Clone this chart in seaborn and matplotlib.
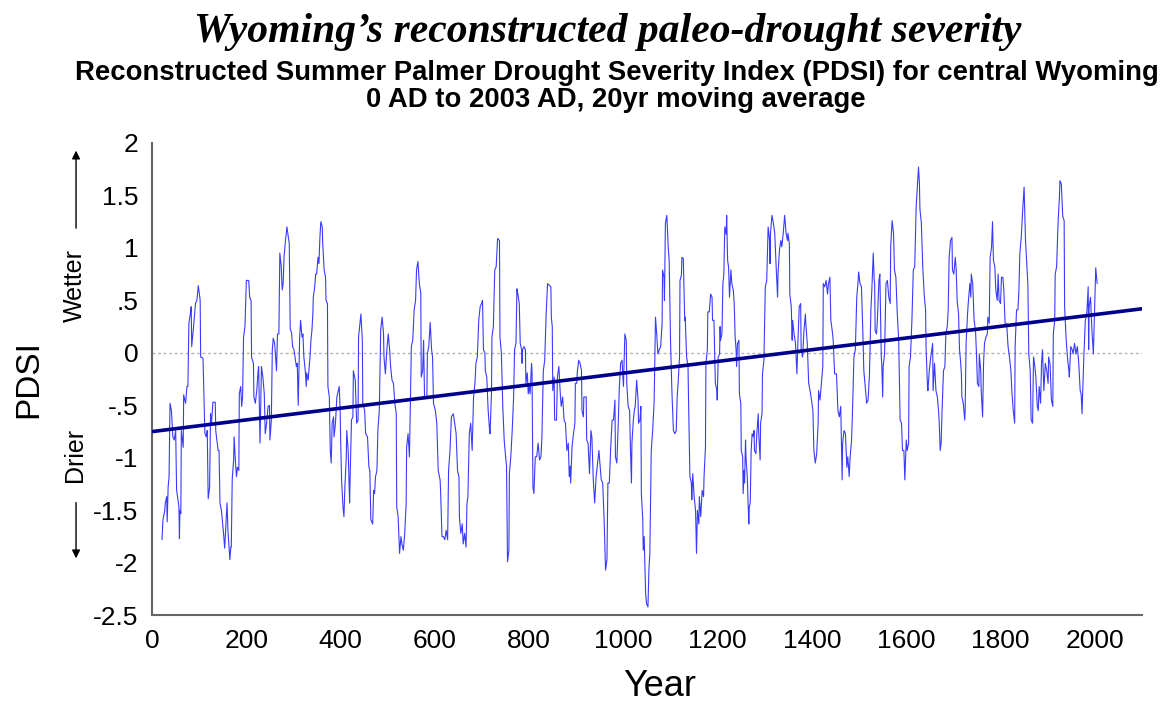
import matplotlib
matplotlib.use("Agg")
import matplotlib.pyplot as plt
import pandas as pd
import seaborn as sns

# 20yr moving average PDSI (turning points)
year = [
    21, 23, 27, 28, 31, 32, 34, 36, 38, 41, 44, 47, 50, 52, 57, 58, 59, 61, 62, 66,
    67, 71, 74, 76, 78, 81, 83, 84, 86, 88, 92, 95, 98, 102, 103, 108, 112, 115, 117, 119,
    122, 124, 126, 129, 134, 135, 140, 142, 144, 147, 151, 154, 156, 159,
    161, 165, 167, 168, 170, 173, 174, 177, 179, 181, 184, 185, 188, 190, 192, 194,
    197, 200, 205, 207, 210, 211, 215, 216, 219, 222, 225, 226, 229, 232, 235, 238,
    239, 240, 243, 246, 249, 250, 253, 255, 257, 260, 264, 266, 269, 271, 274, 276,
    278, 280, 283, 286, 289, 291, 293, 296, 298, 301, 306, 308, 310, 313, 315, 318,
    320, 322, 325, 327, 328,
    331, 335, 337, 339, 341, 342, 345, 347, 349, 352, 354, 356, 358, 361, 362, 365,
    368, 369, 372, 373, 376, 378, 380, 382, 385, 386, 389, 392, 395, 397, 399, 400,
    402, 405, 407, 409, 412, 413, 416, 419, 420, 423, 426, 427, 431, 434, 437, 438,
    440, 443, 446, 447, 451, 453, 457, 460, 462, 464, 468, 470, 472, 474, 477, 479,
    482, 485, 488, 491, 492, 495, 498,
    501, 504, 506, 509, 512, 515, 518, 519, 522, 525, 528, 530, 533, 536, 539, 540,
    543, 546, 547, 550, 553, 556, 559, 561, 564, 567, 570, 571, 574, 576, 578, 583,
    584, 587, 590, 593, 595, 597, 601, 604, 607, 611, 612, 615, 618, 621, 624, 627,
    629, 632, 635, 639, 642, 645, 648, 651, 652, 655, 658, 660, 663, 666, 668,
    670, 673, 676, 679, 682, 685, 687, 690, 693, 696, 699, 701, 703, 706, 707, 710,
    713, 716, 717, 720, 721, 724, 727, 730, 733, 737, 738, 741, 744, 747, 750, 752,
    754, 757, 758, 761, 764, 767, 769, 772, 774, 776, 779, 781, 784, 785, 786, 789,
    792, 793, 796, 798, 800, 802, 805, 806, 808, 810, 813, 816, 819, 822, 825, 827,
    830, 833, 836, 839,
    846, 847, 849, 850, 853, 854, 858, 860, 863, 866, 868, 871, 874, 877, 880, 883,
    885, 887, 888, 891, 894, 897, 898, 901, 902, 905, 908, 911, 912, 915, 916, 921,
    922, 925, 928, 931, 933, 936, 939, 942, 945, 948, 950, 953, 956, 959, 962, 965,
    967, 970, 973, 976, 979, 982, 983, 986, 989, 991, 994, 997, 1000, 1003, 1006, 1007,
    1010, 1013, 1015, 1017, 1018, 1021, 1023, 1025, 1028, 1031, 1032, 1035, 1037, 1038, 1041, 1042,
    1044, 1047, 1049, 1052, 1054, 1056, 1059, 1062, 1065, 1066, 1068, 1071, 1073, 1076, 1079, 1082,
    1083, 1086, 1087, 1089, 1092, 1095, 1097, 1100, 1103, 1106, 1109, 1112, 1114, 1116, 1119, 1120,
    1123, 1124, 1127, 1130, 1131, 1134, 1137, 1138, 1141, 1144, 1145, 1147, 1150, 1153, 1155, 1157,
    1160, 1161, 1164, 1167, 1170, 1171, 1174, 1175, 1178,
    1179, 1182, 1185, 1188, 1189, 1192, 1195, 1198, 1199, 1201, 1204, 1205, 1206, 1209, 1211, 1213,
    1215, 1218, 1219, 1221, 1223, 1225, 1228, 1230, 1233, 1235, 1237, 1239, 1240, 1242, 1245, 1246,
    1249, 1250, 1253, 1254, 1256, 1257, 1259, 1260, 1263, 1264, 1266, 1267, 1269, 1271, 1273, 1276,
    1277, 1278, 1281, 1283, 1286, 1287, 1290, 1291, 1294, 1295, 1298, 1301, 1304, 1305, 1307, 1310,
    1311, 1312, 1315, 1318, 1321, 1324, 1327, 1328, 1331, 1334, 1336, 1339, 1342, 1345, 1348,
    1349, 1352, 1353, 1356, 1358, 1359, 1362, 1365, 1368, 1370, 1373, 1376, 1377, 1380, 1383, 1386,
    1387, 1390, 1393, 1396, 1399, 1402, 1404, 1407, 1410, 1413, 1414, 1417, 1420, 1423, 1424, 1427,
    1430, 1433, 1435, 1438, 1440, 1443, 1445, 1448, 1452, 1455, 1458, 1461, 1464, 1465, 1468, 1471,
    1474, 1476, 1479, 1481, 1484, 1486, 1489, 1492, 1495, 1498, 1499, 1502, 1505, 1508, 1510, 1513,
    1516,
    1519, 1522, 1525, 1527, 1530, 1532, 1533, 1534, 1537, 1539, 1542, 1544, 1547, 1548, 1550, 1551,
    1554, 1557, 1560, 1563, 1566, 1567, 1570, 1573, 1575, 1578, 1581, 1584, 1587, 1590, 1592, 1595,
    1597, 1600, 1602, 1605, 1606, 1609, 1612, 1615, 1618, 1621, 1624, 1626, 1628, 1629, 1632, 1635,
    1638, 1641, 1642, 1645, 1646, 1649, 1652, 1653, 1656, 1657, 1660, 1663, 1666, 1669, 1670, 1672,
    1674, 1676, 1679, 1682, 1684, 1687,
    1689, 1691, 1694, 1697, 1698, 1701, 1704, 1706, 1708, 1711, 1713, 1715, 1717, 1718, 1721, 1724,
    1725, 1727, 1730, 1732, 1735, 1737, 1738, 1741, 1744, 1747, 1749, 1751, 1754, 1755, 1758, 1759,
    1762, 1764, 1766, 1769, 1772, 1773, 1776, 1778, 1781, 1783, 1785, 1788, 1790, 1793, 1795, 1797,
    1800, 1802, 1805, 1807, 1810, 1813, 1816, 1819, 1822, 1824, 1827, 1830, 1831, 1834, 1837, 1839,
    1841, 1844, 1847, 1850, 1853, 1855,
    1858, 1860, 1863, 1865, 1868, 1870, 1872, 1875, 1878, 1880, 1882, 1885, 1887, 1889, 1892, 1895,
    1898, 1901, 1902, 1905, 1908, 1911, 1912, 1915, 1916, 1919, 1922, 1925, 1926, 1929, 1932, 1935,
    1936, 1939, 1942, 1945, 1946, 1949, 1952, 1954, 1957, 1960, 1963, 1966, 1969, 1971, 1973, 1974,
    1977, 1980, 1983, 1986, 1987, 1988, 1991, 1994, 1997, 2000, 2002, 2005,
]
pdsi = [
    -1.78, -1.59, -1.50, -1.43, -1.37, -1.61, -1.28, -1.18, -0.48, -0.55, -0.80, -0.83, -0.74, -1.31, -1.47, -1.77, -1.50, -1.53, -0.74, -0.90,
    -0.40, -0.48, -0.32, -0.32, 0.28, 0.37, 0.44, 0.06, 0.15, 0.25, 0.47, 0.50, 0.64, 0.50, -0.04, -0.05, -0.77, -0.80, -0.74, -1.39,
    -1.28, -0.58, -0.67, -0.47, -0.47, -0.74, -0.93, -0.93, -1.43, -1.50, -1.69, -1.86, -1.69, -1.43,
    -1.70, -1.97, -1.85, -1.85, -1.20, -1.02, -0.80, -1.05, -1.18, -1.09, -1.12, -0.39, -0.32, -0.51, -0.42, 0.15,
    0.25, 0.69, 0.69, 0.53, 0.50, -0.04, -0.10, -0.42, -0.48, -0.36, -0.17, -0.13, -0.86, -0.13, -0.23, -0.39,
    -0.58, -0.77, -0.67, -0.51, -0.50, -0.83, -0.64, 0.03, 0.14, 0.09, -0.17, 0.18, 0.18, 0.95, 0.82, 0.60,
    0.66, 0.92, 1.07, 1.20, 1.10, 1.04, 0.23, 0.19, 0.06, 0.03, -0.13, -0.10, -0.50, 0.14, 0.31, 0.15,
    0.18, -0.04, -0.17, -0.32, -0.19,
    -0.26, -0.04, 0.12, 0.21, 0.37, 0.53, 0.63, 0.75, 0.75, 0.91, 0.85, 1.10, 1.25, 1.20, 1.04, 0.79,
    0.72, 0.50, 0.47, -0.32, -0.42, -0.93, -1.05, -0.67, -0.61, -0.80, -0.67, -0.42, -0.36, -0.32, -0.55, -0.83,
    -1.21, -1.47, -1.56, -1.28, -0.99, -0.74, -0.93, -1.43, -1.21, -0.64, -0.61, -0.17, -0.26, -0.67, -0.64, 0.15,
    0.24, 0.37, 0.12, -0.48, -0.55, -0.77, -0.80, -1.09, -1.12, -1.59, -1.63, -1.31, -1.34, -1.18, -1.12, -0.74,
    -0.55, 0.22, 0.34, 0.18, -0.04, -0.20, 0.03,
    0.18, 0.03, -0.13, -0.26, -0.29, -0.48, -0.58, -1.47, -1.56, -1.91, -1.75, -1.82, -1.88, -1.72, -1.43, -0.90,
    -0.77, -0.99, -0.74, 0.06, 0.12, 0.41, 0.50, 0.79, 0.87, 0.66, 0.57, -0.23, -0.17, 0.12, -0.42, -0.42,
    -0.01, 0.06, 0.29, 0.03, -0.04, -0.48, -0.55, -0.67, -1.12, -1.21, -1.31, -1.75, -1.75, -1.78, -1.69, -1.78,
    -1.12, -0.93, -0.61, -0.58, -0.67, -0.77, -1.12, -1.18, -1.56, -1.72, -1.63, -1.82, -1.72, -1.85, -1.44,
    -1.37, -0.77, -0.67, -0.93, -0.42, -0.29, -0.10, -0.04, 0.31, 0.44, 0.47, 0.50, 0.03, 0.00, -0.17, -0.23,
    -0.55, -0.74, -0.77, -0.39, 0.15, 0.25, 0.79, 0.82, 1.09, 1.07, 0.15, 0.00, -0.51, -0.83, -0.99, -1.08,
    -1.99, -1.88, -1.15, -0.99, -0.74, -0.42, 0.03, 0.09, 0.61, 0.56, 0.47, 0.09, 0.03, -0.10, 0.03, 0.06,
    0.03, -0.29, -0.19, -0.39, -0.32, -0.39, -0.10, -0.17, -1.28, -1.34, -0.99, -0.99, -0.86, -1.02, -0.99, -0.80,
    -0.17, -0.07, 0.37, 0.66,
    0.63, 0.34, 0.25, -0.36, -0.23, -0.64, -0.64, -0.23, -0.13, -0.39, -0.51, -0.42, -0.64, -0.67, -0.93, -0.86,
    -1.18, -1.08, -1.24, -0.89, -0.77, -0.67, -0.29, -0.29, -0.19, -0.07, -0.10, -0.17, -0.55, -0.61, -0.42, -0.42,
    -0.83, -0.86, -1.15, -0.74, -0.80, -1.21, -1.43, -1.18, -1.05, -0.93, -1.05, -1.21, -1.24, -1.59, -2.07, -1.97,
    -1.24, -1.24, -0.90, -0.64, -0.64, -0.45, -0.99, -1.05, -0.67, -0.36, -0.10, -0.07, -0.32, 0.18, 0.12, -0.29,
    -0.51, -0.55, -0.93, -1.24, -0.86, -0.64, -0.55, -0.51, -0.26, -0.45, -0.67, -0.64, -0.51, -1.34, -1.59, -1.88,
    -1.75, -2.29, -2.39, -2.42, -2.07, -1.91, -0.93, -0.74, -0.48, -0.23, 0.34, 0.15, -0.01, 0.03, 0.06, 0.28,
    0.79, 0.72, 0.50, 1.23, 1.31, 1.01, 0.88, 0.09, -0.39, -0.74, -0.77, -0.74, -0.42, -0.29, -0.04, 0.69,
    0.74, 0.91, 0.90, 0.31, 0.34, -0.04, -0.13, -0.42, -1.18, -1.24, -1.40, -1.15, -1.37, -1.50, -1.91, -1.50,
    -1.63, -1.37, -1.56, -1.31, -1.37, -1.18, -0.90, -0.10, 0.03,
    0.39, 0.39, 0.56, 0.53, 0.31, 0.31, -0.29, -0.35, -0.45, -0.04, -0.01, 0.25, 0.12, 0.18, 0.66, 0.75,
    1.20, 1.13, 1.31, 0.88, 0.82, 0.53, 0.79, 0.66, 0.60, 0.47, 0.15, 0.03, -0.13, 0.09, 0.12, -0.39,
    -0.48, -0.93, -0.99, -1.34, -1.12, -1.24, -0.83, -0.99, -1.21, -1.37, -1.63, -1.47, -1.43, -0.93, -0.77, -0.80,
    -0.74, -0.93, -0.96, -0.77, -0.58, -0.77, -1.02, -0.67, -0.58, -0.20, -0.07, 0.63, 0.69, 0.85, 1.20, 1.07,
    0.85, 1.14, 1.31, 1.24, 1.14, 0.82, 0.53, 0.75, 0.98, 1.07, 1.01, 1.14, 1.31, 1.14, 1.07,
    1.14, 1.04, 0.56, 0.44, 0.12, 0.31, 0.18, 0.09, -0.20, 0.09, 0.44, 0.47, 0.03, -0.04, 0.21, 0.37,
    0.28, 0.09, -0.29, -0.36, -0.45, -0.55, -0.93, -1.05, -0.96, -0.67, -0.36, -0.45, -0.29, -0.13, 0.66, 0.63,
    0.69, 0.56, 0.66, 0.72, 0.31, 0.21, 0.12, -0.20, -0.20, -0.55, -0.61, -0.51, -1.21, -0.86, -0.74, -0.77,
    -1.09, -0.99, -1.18, -0.99, -0.83, -0.55, -0.04, 0.03, 0.53, 0.69, 0.77, 0.66, 0.63, 0.18, -0.17, -0.32,
    -0.48,
    -0.45, -0.20, 0.41, 0.60, 0.95, 0.69, 0.66, 0.21, 0.18, 0.34, 0.69, 0.75, -0.04, -0.10, -0.42, -0.13,
    -0.01, 0.66, 0.69, 0.53, 0.47, 1.01, 1.26, 1.14, 0.79, 0.72, 0.37, 0.12, -0.64, -0.67, -0.93, -0.93,
    -1.21, -0.83, -0.93, -0.86, -0.13, -0.04, 0.31, 0.79, 0.82, 1.39, 1.61, 1.77, 1.61, 1.37, 1.24, 0.82,
    0.56, 0.41, 0.06, -0.32, -0.36, -0.16, -0.04, -0.01, 0.09, -0.36, -0.10, -0.36, -0.42, -0.58, -0.67, -0.93,
    -0.86, -0.55, -0.17, -0.13, 0.18, 0.25,
    0.41, 0.91, 1.07, 1.10, 0.79, 0.75, 0.91, 0.79, 0.50, 0.37, 0.03, -0.07, -0.20, -0.42, -0.48, -0.64,
    -0.55, 0.09, 0.37, 0.50, 0.66, 0.53, 0.75, 0.66, 0.31, 0.21, -0.01, -0.29, -0.32, -0.01, -0.17, -0.36,
    -0.61, -0.10, 0.09, 0.15, 0.18, 0.34, 0.28, 0.91, 1.01, 1.25, 0.88, 0.82, 0.60, 0.50, 0.75, 0.50,
    0.47, 0.72, 0.72, 0.60, 0.25, 0.28, 0.06, -0.04, -0.17, -0.36, -0.55, -0.67, 0.06, 0.41, 0.41, 0.60,
    0.95, 1.10, 1.36, 1.58, 1.07, 0.91,
    0.66, -0.01, -0.17, -0.64, -0.67, -0.04, -0.10, -0.23, -0.51, -0.55, -0.32, -0.48, -0.10, 0.03, -0.36, -0.10,
    -0.17, -0.29, -0.04, -0.10, -0.45, -0.51, 0.18, 0.31, 0.75, 0.82, 1.23, 1.49, 1.64, 1.61, 1.30, 1.26,
    0.44, 0.15, -0.04, -0.17, -0.23, 0.06, 0.03, -0.01, 0.09, -0.01, 0.06, -0.10, -0.36, -0.39, -0.58, -0.42,
    -0.01, 0.31, 0.37, 0.63, 0.03, 0.44, 0.53, 0.21, -0.01, 0.47, 0.81, 0.66,
]

# linear trend, end points
trend_year = [0, 2100]
trend_pdsi = [-0.75, 0.42]

ytick_vals = [2, 1.5, 1, 0.5, 0, -0.5, -1, -1.5, -2, -2.5]
ytick_labels = ["2", "1.5", "1", ".5", "0", "-.5", "-1", "-1.5", "-2", "-2.5"]
xtick_vals = list(range(0, 2001, 200))

df = pd.DataFrame({"Year": year, "PDSI": pdsi})
trend = pd.DataFrame({"Year": trend_year, "PDSI": trend_pdsi})

sns.set_style("white")
plt.rcParams["font.family"] = ["Liberation Sans", "DejaVu Sans"]
plt.rcParams["text.color"] = "black"
plt.rcParams["axes.labelcolor"] = "black"
plt.rcParams["xtick.labelcolor"] = "black"
plt.rcParams["ytick.labelcolor"] = "black"

fig = plt.figure(figsize=(11.7, 7.04), dpi=100)
ax = fig.add_axes([0.130, 0.126, 0.846, 0.671])

ax.axhline(0, color="#b4b4b4", lw=1, ls=(0, (2, 2)), zorder=1)
sns.lineplot(data=df, x="Year", y="PDSI", ax=ax, color="#3a3aff", lw=0.8,
             estimator=None, sort=False, zorder=2)
sns.lineplot(data=trend, x="Year", y="PDSI", ax=ax, color="#00008c", lw=2.6,
             estimator=None, zorder=3)

ax.set_xlim(0, 2100)
ax.set_ylim(-2.5, 2)
ax.set_xticks(xtick_vals)
ax.set_xticklabels([str(v) for v in xtick_vals])
ax.set_yticks(ytick_vals)
ax.set_yticklabels(ytick_labels)
ax.tick_params(axis="both", direction="out", length=6, width=1.2, color="#666666",
               labelsize=19, labelcolor="black", pad=4)
for side in ["top", "right"]:
    ax.spines[side].set_visible(False)
for side in ["left", "bottom"]:
    ax.spines[side].set_color("#666666")
    ax.spines[side].set_linewidth(1.5)

ax.set_xlabel("Year", fontsize=26, color="black")
ax.xaxis.set_label_coords(0.513, -0.113)
ax.set_ylabel("PDSI", fontsize=24, va="center", color="black")
ax.yaxis.set_label_coords(-0.125, 0.5)

# wetter / drier annotations beside the y axis
fig.text(0.064, 0.594, "Wetter", rotation=90, ha="center", va="center", fontsize=18)
fig.text(0.064, 0.354, "Drier", rotation=90, ha="center", va="center", fontsize=18)
fig.add_artist(matplotlib.patches.FancyArrowPatch(
    (0.065, 0.672), (0.065, 0.790), transform=fig.transFigure,
    arrowstyle="-|>", mutation_scale=12, lw=1, color="black"))
fig.add_artist(matplotlib.patches.FancyArrowPatch(
    (0.065, 0.290), (0.065, 0.203), transform=fig.transFigure,
    arrowstyle="-|>", mutation_scale=12, lw=1, color="black"))

fig.text(0.519, 0.955, "Wyoming\u2019s reconstructed paleo-drought severity",
         ha="center", va="center", fontsize=30, fontweight="bold", fontstyle="italic",
         family=["Liberation Serif", "DejaVu Serif"])
fig.text(0.527, 0.896, "Reconstructed Summer Palmer Drought Severity Index (PDSI) for central Wyoming",
         ha="center", va="center", fontsize=19.8, fontweight="bold")
fig.text(0.526, 0.858, "0 AD to 2003 AD, 20yr moving average",
         ha="center", va="center", fontsize=19.8, fontweight="bold")

fig.savefig("out.png", dpi=100)
